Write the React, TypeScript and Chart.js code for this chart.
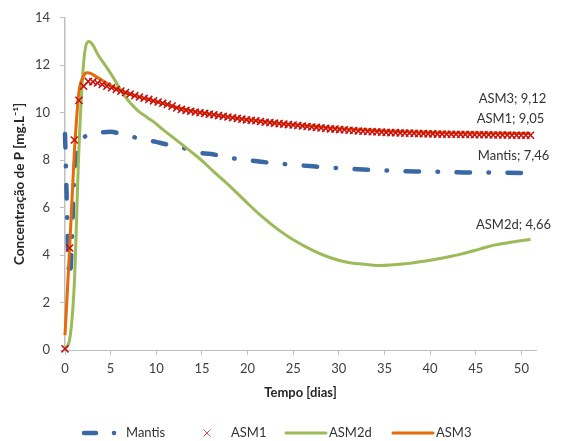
import { useEffect, useRef } from "react";
import { Chart, registerables } from "chart.js";

Chart.register(...registerables);

// ---------- data ----------
const seriesNames = ["Mantis", "ASM1", "ASM2d", "ASM3"];
const xTicks = [0, 5, 10, 15, 20, 25, 30, 35, 40, 45, 50];
const yTicks = [0, 2, 4, 6, 8, 10, 12, 14];

const mantisT = [0, 0.51, 1.1, 1.6, 2.2, 3, 4, 5, 6, 7, 8, 9, 10, 11, 12, 12.6, 14, 15, 16.3, 18, 20, 21.5, 23.3, 25.2, 26.8, 28.7, 30.3, 32, 34, 35.6, 37.4, 39, 41, 42.7, 44.5, 46, 48, 51];
const mantisP = [9.1, 3.05, 7.9, 8.5, 9.0, 9.1, 9.17, 9.2, 9.12, 9.02, 8.93, 8.85, 8.77, 8.68, 8.6, 8.55, 8.4, 8.3, 8.24, 8.1, 8.0, 7.93, 7.86, 7.8, 7.75, 7.69, 7.66, 7.62, 7.58, 7.56, 7.53, 7.52, 7.51, 7.49, 7.48, 7.48, 7.47, 7.46];

const asm1T = [0, 0.51, 1.02, 1.53, 2.04, 2.55, 3.06, 3.57, 4.08, 4.59,
  5.1, 5.61, 6.12, 6.63, 7.14, 7.65, 8.16, 8.67, 9.18, 9.69,
  10.2, 10.71, 11.22, 11.73, 12.24, 12.75, 13.26, 13.77, 14.28, 14.79,
  15.3, 15.81, 16.32, 16.83, 17.34, 17.85, 18.36, 18.87, 19.38, 19.89,
  20.4, 20.91, 21.42, 21.93, 22.44, 22.95, 23.46, 23.97, 24.48, 24.99,
  25.5, 26.01, 26.52, 27.03, 27.54, 28.05, 28.56, 29.07, 29.58, 30.09,
  30.6, 31.11, 31.62, 32.13, 32.64, 33.15, 33.66, 34.17, 34.68, 35.19,
  35.7, 36.21, 36.72, 37.23, 37.74, 38.25, 38.76, 39.27, 39.78, 40.29,
  40.8, 41.31, 41.82, 42.33, 42.84, 43.35, 43.86, 44.37, 44.88, 45.39,
  45.9, 46.41, 46.92, 47.43, 47.94, 48.45, 48.96, 49.47, 49.98, 50.49,
  51.0];
const asm1P = [0.05, 4.3, 8.85, 10.52, 11.12, 11.32, 11.3, 11.25, 11.19, 11.12,
  11.05, 10.98, 10.91, 10.85, 10.79, 10.72, 10.66, 10.61, 10.56, 10.5,
  10.45, 10.4, 10.35, 10.28, 10.2, 10.14, 10.1, 10.06, 10.03, 10.0,
  9.97, 9.94, 9.91, 9.88, 9.85, 9.82, 9.79, 9.76, 9.73, 9.7,
  9.68, 9.66, 9.63, 9.6, 9.58, 9.56, 9.54, 9.52, 9.5, 9.48,
  9.46, 9.44, 9.42, 9.4, 9.38, 9.36, 9.34, 9.32, 9.31, 9.29,
  9.28, 9.26, 9.25, 9.23, 9.22, 9.21, 9.2, 9.19, 9.18, 9.17,
  9.16, 9.16, 9.15, 9.14, 9.14, 9.13, 9.12, 9.12, 9.11, 9.11,
  9.1, 9.1, 9.09, 9.09, 9.09, 9.08, 9.08, 9.08, 9.07, 9.07,
  9.07, 9.07, 9.06, 9.06, 9.06, 9.06, 9.05, 9.05, 9.05, 9.05,
  9.05];

const asm2dT = [0, 0.51, 1.02, 1.53, 2.04, 2.6, 3.06, 3.6, 4.4, 5.1, 6.2, 7, 8, 9, 9.86, 10.7, 11.7, 12.6, 14, 15, 16.2, 18, 19.9, 21.5, 23.5, 25, 27.2, 29, 30.9, 32.3, 34.5, 37.4, 39.5, 41.8, 43.5, 45.5, 47, 49, 51];
const asm2dP = [0.05, 0.45, 2.8, 8.5, 12.1, 13.0, 12.85, 12.45, 12.0, 11.6, 10.9, 10.48, 10.08, 9.8, 9.57, 9.3, 9.0, 8.73, 8.3, 7.98, 7.55, 6.93, 6.22, 5.65, 5.03, 4.65, 4.19, 3.9, 3.7, 3.63, 3.56, 3.64, 3.75, 3.91, 4.05, 4.26, 4.42, 4.55, 4.66];

const asm3T = [0, 0.51, 1.02, 1.3, 1.53, 2.04, 2.4, 2.8, 3.3, 4, 5, 6, 7, 8, 10, 12, 14, 16, 18, 20, 22.5, 25, 27.5, 30, 32.5, 35, 37.5, 40, 42.5, 45, 47.5, 51];
const asm3P = [0.63, 4.3, 8.3, 9.9, 10.9, 11.55, 11.68, 11.66, 11.55, 11.38, 11.15, 10.95, 10.8, 10.68, 10.47, 10.25, 10.07, 9.94, 9.82, 9.71, 9.6, 9.5, 9.42, 9.34, 9.28, 9.23, 9.2, 9.17, 9.15, 9.14, 9.13, 9.12];

// ---------- styles ----------
const FONT = "Lato, 'Open Sans', 'Liberation Sans', sans-serif";
const colors = ["#3a68a5", "#c80e0e", "#9bbb59", "#e46c0a"];
const labelOffsets = [
  [-17, -17],
  [-20, -16],
  [-17, -15],
  [-18, -35],
];

const toPts = (t: number[], p: number[]) => t.map((x, i) => ({ x, y: p[i] }));
const fmt = (v: number) => v.toFixed(2).replace(".", ",");

const endLabelPlugin = {
  id: "endLabels",
  afterDatasetsDraw(chart: any) {
    const ctx = chart.ctx;
    ctx.save();
    ctx.font = `13px ${FONT}`;
    ctx.fillStyle = "#333333";
    ctx.textAlign = "center";
    ctx.textBaseline = "middle";
    chart.data.datasets.forEach((ds: any, i: number) => {
      const meta = chart.getDatasetMeta(i);
      const el = meta.data[meta.data.length - 1];
      const last = ds.data[ds.data.length - 1];
      const [dx, dy] = labelOffsets[i];
      ctx.fillText(`${ds.label}; ${fmt(last.y)}`, el.x + dx, el.y + dy);
    });
    ctx.restore();
  },
};

const legendPlugin = {
  id: "customLegend",
  afterDraw(chart: any) {
    const ctx = chart.ctx;
    const y = 433;
    ctx.save();
    ctx.font = `13px ${FONT}`;
    ctx.fillStyle = "#333333";
    ctx.textBaseline = "middle";
    ctx.textAlign = "left";
    // Mantis
    ctx.strokeStyle = colors[0];
    ctx.lineWidth = 4.5;
    ctx.lineCap = "round";
    ctx.beginPath();
    ctx.moveTo(84, y);
    ctx.lineTo(96, y);
    ctx.stroke();
    ctx.fillStyle = colors[0];
    ctx.beginPath();
    ctx.arc(114, y, 2.25, 0, Math.PI * 2);
    ctx.fill();
    ctx.fillStyle = "#333333";
    ctx.fillText(seriesNames[0], 126, y);
    // ASM1
    ctx.strokeStyle = "#e05050";
    ctx.lineWidth = 1;
    ctx.lineCap = "butt";
    ctx.beginPath();
    ctx.moveTo(203.5, y - 3.5);
    ctx.lineTo(210.5, y + 3.5);
    ctx.moveTo(210.5, y - 3.5);
    ctx.lineTo(203.5, y + 3.5);
    ctx.stroke();
    ctx.fillText(seriesNames[1], 231, y);
    // ASM2d
    ctx.strokeStyle = colors[2];
    ctx.lineWidth = 3;
    ctx.lineCap = "round";
    ctx.beginPath();
    ctx.moveTo(286, y);
    ctx.lineTo(326, y);
    ctx.stroke();
    ctx.fillText(seriesNames[2], 329, y);
    // ASM3
    ctx.strokeStyle = colors[3];
    ctx.beginPath();
    ctx.moveTo(393, y);
    ctx.lineTo(433, y);
    ctx.stroke();
    ctx.fillText(seriesNames[3], 436, y);
    ctx.restore();
  },
};

export default function App() {
  const ref = useRef<HTMLCanvasElement | null>(null);
  useEffect(() => {
    if (!ref.current) return;
    const chart = new Chart(ref.current, {
      type: "scatter",
      data: {
        datasets: [
          {
            label: seriesNames[0],
            data: toPts(mantisT, mantisP),
            showLine: true,
            borderColor: colors[0],
            backgroundColor: colors[0],
            borderWidth: 4.5,
            borderDash: [13.5, 18.5, 0.5, 18.5],
            borderCapStyle: "round",
            pointRadius: 0,
            cubicInterpolationMode: "monotone",
            clip: false,
            order: 4,
          } as any,
          {
            label: seriesNames[1],
            data: toPts(asm1T, asm1P),
            showLine: false,
            borderColor: colors[1],
            backgroundColor: colors[1],
            pointStyle: "crossRot",
            pointRadius: 5,
            pointBorderWidth: 1.5,
            clip: false,
            order: 0,
          } as any,
          {
            label: seriesNames[2],
            data: toPts(asm2dT, asm2dP),
            showLine: true,
            borderColor: colors[2],
            backgroundColor: colors[2],
            borderWidth: 3,
            pointRadius: 0,
            cubicInterpolationMode: "monotone",
            clip: false,
            order: 3,
          } as any,
          {
            label: seriesNames[3],
            data: toPts(asm3T, asm3P),
            showLine: true,
            borderColor: colors[3],
            backgroundColor: colors[3],
            borderWidth: 3,
            pointRadius: 0,
            cubicInterpolationMode: "monotone",
            clip: false,
            order: 2,
          } as any,
        ],
      },
      options: {
        responsive: false,
        animation: false,
        layout: { padding: { left: 0, top: 16, right: 27, bottom: 40 } },
        plugins: {
          legend: { display: false },
          tooltip: { enabled: false },
        },
        scales: {
          x: {
            type: "linear",
            min: 0,
            max: 51.6,
            afterBuildTicks: (s: any) => {
              s.ticks = xTicks.map((v) => ({ value: v }));
            },
            afterFit: (s: any) => {
              s.height = 51;
            },
            ticks: {
              padding: 6,
              color: "#404040",
              font: { family: FONT, size: 13 },
              maxRotation: 0,
            },
            grid: { drawOnChartArea: false, color: "#bfbfbf", tickLength: 5 },
            border: { color: "#bfbfbf", width: 1 },
            title: {
              display: true,
              text: "Tempo [dias]",
              color: "#262626",
              font: { family: FONT, size: 13, weight: "bold" },
              padding: { top: 0, bottom: 0 },
            },
          },
          y: {
            type: "linear",
            min: 0,
            max: 14,
            afterBuildTicks: (s: any) => {
              s.ticks = yTicks.map((v) => ({ value: v }));
            },
            afterFit: (s: any) => {
              s.width = 65;
            },
            ticks: {
              padding: 10,
              color: "#404040",
              font: { family: FONT, size: 13 },
            },
            grid: { drawOnChartArea: false, color: "#bfbfbf", tickLength: 5 },
            border: { color: "#bfbfbf", width: 1.5 },
            title: {
              display: true,
              text: "Concentração de P [mg.L⁻¹]",
              color: "#262626",
              font: { family: FONT, size: 13.5, weight: "bold" },
              padding: { top: 12, bottom: 0 },
            },
          },
        },
      },
      plugins: [endLabelPlugin, legendPlugin],
    });
    return () => chart.destroy();
  }, []);

  return (
    <div style={{ position: "absolute", left: 0, top: 0, width: 563, height: 441, background: "#fff" }}>
      <canvas ref={ref} width={563} height={441} style={{ display: "block" }} />
    </div>
  );
}
